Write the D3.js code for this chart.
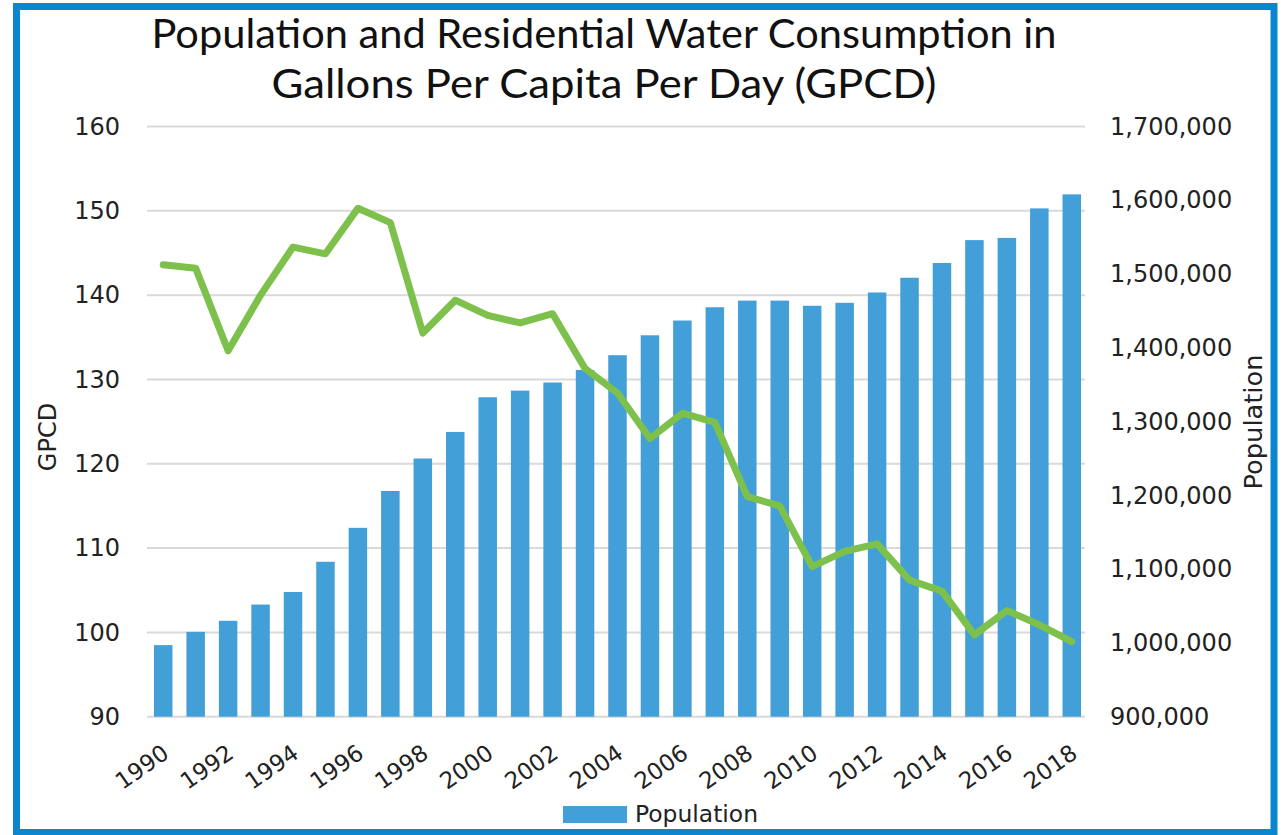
<html>
<head>
    <title>Population and Residential Water Consumption</title>
    <script src="https://d3js.org/d3.v7.min.js"></script>

    <style>
      body{
          margin: 0;
          background: white;
      }
      .title{
          font-family: Lato, "DejaVu Sans", sans-serif;
          font-size: 40px;
          fill: #111;
      }
      .tick text{
          font-family: "DejaVu Sans", sans-serif;
          font-size: 24px;
          fill: #222;
      }
      .xaxis .tick text{
          font-size: 23px;
      }
      .axis_title{
          font-family: "DejaVu Sans", sans-serif;
          font-size: 24px;
          fill: #222;
      }
      .legend_text{
          font-family: "DejaVu Sans", sans-serif;
          font-size: 23px;
          fill: #222;
      }
    </style>
</head>
<body>
<svg height = 835 width = 1286 id = chart></svg>

<script>

const years = [1990, 1991, 1992, 1993, 1994, 1995, 1996, 1997, 1998, 1999,
               2000, 2001, 2002, 2003, 2004, 2005, 2006, 2007, 2008, 2009,
               2010, 2011, 2012, 2013, 2014, 2015, 2016, 2017, 2018];

// population, right axis (bars)
const population = [997000, 1015000, 1030000, 1052000, 1069000, 1110000, 1156000, 1206000, 1250000, 1286000,
                    1333000, 1342000, 1353000, 1370000, 1390000, 1417000, 1437000, 1455000, 1464000, 1464000,
                    1457000, 1461000, 1475000, 1495000, 1515000, 1546000, 1549000, 1589000, 1608000];

// gallons per capita per day, left axis (line)
const gpcd = [143.6, 143.2, 133.4, 140.0, 145.7, 144.9, 150.3, 148.6, 135.5, 139.4,
              137.6, 136.7, 137.8, 131.3, 128.4, 123.0, 126.0, 124.9, 116.1, 115.0,
              107.8, 109.6, 110.5, 106.2, 104.9, 99.7, 102.6, 100.9, 98.9];

const gpcdTicks = [90, 100, 110, 120, 130, 140, 150, 160];
const popTicks = [900000, 1000000, 1100000, 1200000, 1300000, 1400000, 1500000, 1600000, 1700000];
const yearTicks = [1990, 1992, 1994, 1996, 1998, 2000, 2002, 2004, 2006, 2008, 2010, 2012, 2014, 2016, 2018];

const titleLines = ["Population and Residential Water Consumption in",
                    "Gallons Per Capita Per Day (GPCD)"];

const svg = d3.select("#chart");

const plotLeft = 147, plotRight = 1088, plotTop = 126.5, plotBottom = 716.7;

let x = d3.scaleBand()
    .domain(years)
    .range([plotLeft, plotRight])
    .paddingInner(0.43)
    .paddingOuter(0.215);

let yL = d3.scaleLinear().domain([90, 160]).range([plotBottom, plotTop]);
let yR = d3.scaleLinear().domain([900000, 1700000]).range([plotBottom, plotTop]);

// frame
svg.append("rect")
    .attr("x", 16.5)
    .attr("y", 6.5)
    .attr("width", 1257.5)
    .attr("height", 826)
    .attr("fill", "white")
    .attr("stroke", "#0a86cf")
    .attr("stroke-width", 7);

// title
svg.selectAll(".title")
    .data(titleLines)
    .join("text")
    .attr("class", "title")
    .attr("x", 604)
    .attr("y", (d, i) => 48 + i * 50)
    .attr("text-anchor", "middle")
    .attr("textLength", (d, i) => i == 0 ? 905 : 665)
    .attr("lengthAdjust", "spacingAndGlyphs")
    .text(d => d);

// gridlines
svg.append("g")
    .selectAll("line")
    .data(gpcdTicks)
    .join("line")
    .attr("x1", plotLeft)
    .attr("x2", 1085)
    .attr("y1", d => yL(d))
    .attr("y2", d => yL(d))
    .attr("stroke", "#d9d9d9")
    .attr("stroke-width", 2);

// bars
svg.append("g")
    .selectAll("rect")
    .data(years)
    .join("rect")
    .attr("x", d => x(d))
    .attr("width", x.bandwidth())
    .attr("y", (d, i) => yR(population[i]))
    .attr("height", (d, i) => plotBottom - yR(population[i]))
    .attr("fill", "#429fd8");

// gpcd line
let line = d3.line()
    .x((d, i) => x(years[i]) + x.bandwidth() / 2)
    .y(d => yL(d));

svg.append("path")
    .datum(gpcd)
    .attr("d", line)
    .attr("fill", "none")
    .attr("stroke", "#7dc04b")
    .attr("stroke-width", 7)
    .attr("stroke-linejoin", "round")
    .attr("stroke-linecap", "round");

// axes
let leftAxis = svg.append("g")
    .attr("transform", `translate(${plotLeft},0)`)
    .call(d3.axisLeft(yL).tickValues(gpcdTicks).tickSize(0).tickPadding(27));

let rightAxis = svg.append("g")
    .attr("transform", `translate(1085,0)`)
    .call(d3.axisRight(yR).tickValues(popTicks).tickSize(0).tickPadding(25)
        .tickFormat(d3.format(",")));

let xAxis = svg.append("g")
    .attr("class", "xaxis")
    .attr("transform", `translate(0,${plotBottom})`)
    .call(d3.axisBottom(x).tickValues(yearTicks).tickSize(0));

[leftAxis, rightAxis, xAxis].forEach(a => a.select(".domain").remove());

xAxis.selectAll("text")
    .attr("text-anchor", "end")
    .attr("dy", 0)
    .attr("y", 0)
    .attr("transform", d => `translate(${x.bandwidth() / 2 - 2},40) rotate(-35)`);

// axis titles
svg.append("text")
    .attr("class", "axis_title")
    .attr("transform", "translate(56,437) rotate(-90)")
    .attr("text-anchor", "middle")
    .text("GPCD");

svg.append("text")
    .attr("class", "axis_title")
    .attr("transform", "translate(1262,422) rotate(-90)")
    .attr("text-anchor", "middle")
    .attr("textLength", 135)
    .attr("lengthAdjust", "spacingAndGlyphs")
    .text("Population");

// legend
svg.append("rect")
    .attr("x", 563)
    .attr("y", 806)
    .attr("width", 64)
    .attr("height", 17)
    .attr("fill", "#429fd8");

svg.append("text")
    .attr("class", "legend_text")
    .attr("x", 635)
    .attr("y", 822)
    .attr("textLength", 123)
    .attr("lengthAdjust", "spacingAndGlyphs")
    .text("Population");

</script>

</body>
</html>
